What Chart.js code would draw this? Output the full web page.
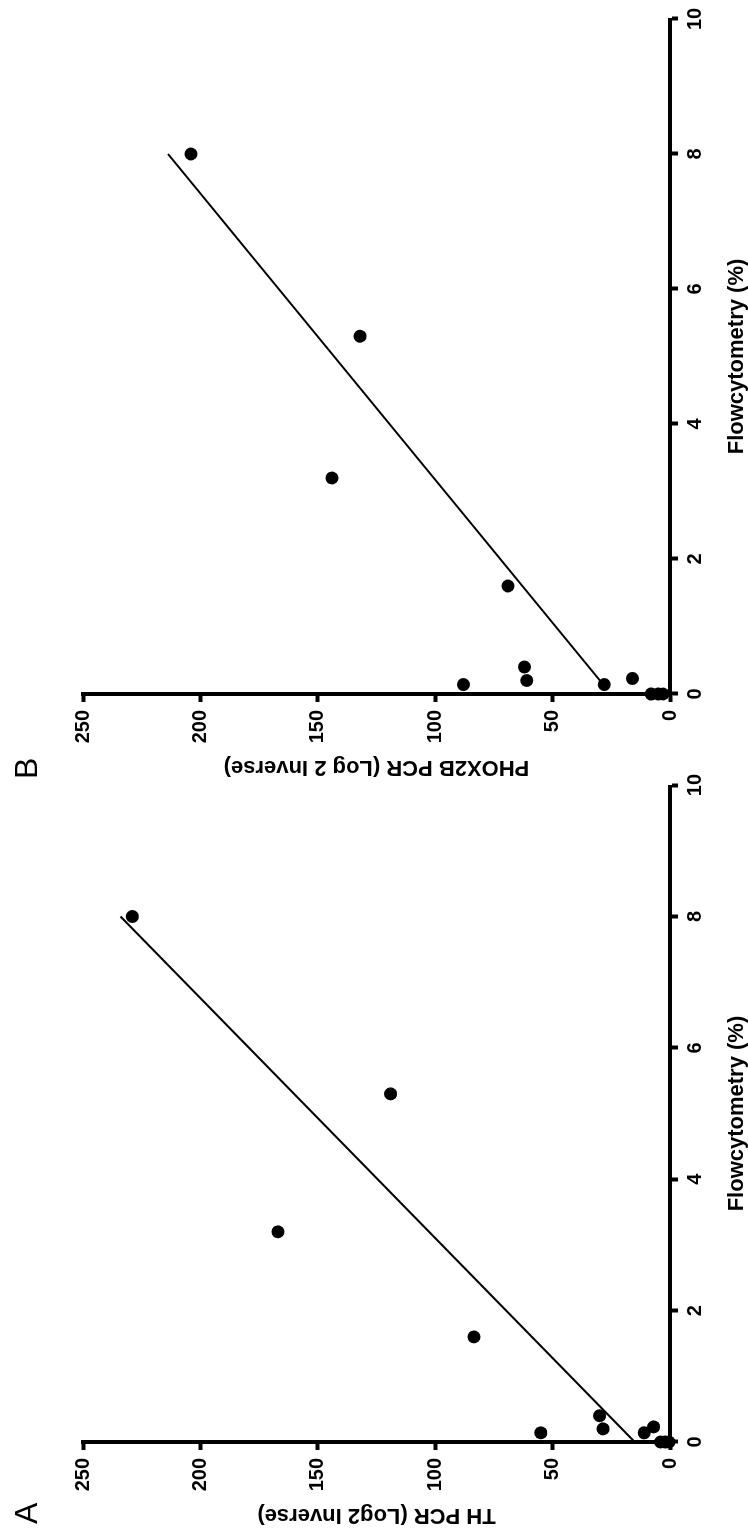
<!DOCTYPE html>
<html>
<head>
<meta charset="utf-8">
<script src="https://cdn.jsdelivr.net/npm/chart.js@4.4.0/dist/chart.umd.min.js"></script>
<style>
  html, body { margin: 0; padding: 0; background: #fff; overflow: hidden; width: 748px; height: 1537px; }
  /* the figure is drawn upright (1537 x 748) and turned a quarter turn left */
  #fig { position: absolute; left: 0; top: 0; width: 1537px; height: 748px;
         transform-origin: 0 0; transform: translateY(1537px) rotate(-90deg); }
  .panel { position: absolute; top: 0; height: 748px; }
  .tag { position: absolute; top: 10px; font: 32px "Liberation Sans", Arial, sans-serif; line-height: 32px; color: #000; }
</style>
</head>
<body>
<div id="fig">
  <div class="panel" style="left:0;width:768px"><canvas id="chartA" width="768" height="748"></canvas><div class="tag" style="left:13px">A</div></div>
  <div class="panel" style="left:748px;width:789px"><canvas id="chartB" width="789" height="748"></canvas><div class="tag" style="left:10px">B</div></div>
</div>
<script>
// samples (flowcytometry %), same 12 samples in both panels
const flow = [8.0, 5.3, 3.2, 1.6, 0.4, 0.2, 0.14, 0.14, 0.23, 0, 0, 0];
const thPcr = [229, 119, 167, 83.5, 30, 28.5, 55, 11, 7, 4, 2, 0.5];
const phox2bPcr = [204, 132, 144, 69, 62, 61, 88, 28, 16, 8, 5, 3];

// regression lines (end points)
const fitAx = [0, 8];
const fitAy = [15, 234];
const fitBx = [0.14, 8];
const fitBy = [28.4, 213.8];

const xTicks = [0, 2, 4, 6, 8, 10];
const yTicks = [0, 50, 100, 150, 200, 250];

Chart.defaults.font.family = '"Liberation Sans", Arial, sans-serif';
Chart.defaults.color = '#000';

function pts(xs, ys) {
  return xs.map((x, i) => ({ x: x, y: ys[i] }));
}

function makeChart(id, values, fx, fy, yTitle, rightPad) {
  const ctx = document.getElementById(id);
  return new Chart(ctx, {
    type: 'scatter',
    data: {
      datasets: [
        {
          data: pts(flow, values),
          backgroundColor: '#000',
          borderWidth: 0,
          pointRadius: 6.5,
          clip: false
        },
        {
          type: 'line',
          data: pts(fx, fy),
          borderColor: '#000',
          borderWidth: 2,
          pointRadius: 0,
          fill: false,
          clip: false
        }
      ]
    },
    options: {
      responsive: false,
      animation: false,
      events: [],
      layout: { padding: { top: 83, right: rightPad, left: 0, bottom: 0 } },
      plugins: { legend: { display: false }, tooltip: { enabled: false } },
      scales: {
        x: {
          type: 'linear', min: 0, max: 10,
          afterBuildTicks: s => { s.ticks = xTicks.map(v => ({ value: v })); },
          afterFit: s => { s.height = 78; },
          border: { display: true, width: 4, color: '#000' },
          grid: { drawOnChartArea: false, drawTicks: true, tickLength: 8, tickWidth: 4, tickColor: '#000' },
          ticks: { padding: 5, font: { size: 20, weight: 'bold' }, color: '#000', maxRotation: 0 },
          title: { display: true, text: 'Flowcytometry (%)', color: '#000',
                   font: { size: 22, weight: 'bold', lineHeight: 1 }, padding: { top: 0, bottom: 0 } }
        },
        y: {
          type: 'linear', min: 0, max: 250,
          afterBuildTicks: s => { s.ticks = yTicks.map(v => ({ value: v })); },
          afterFit: s => { s.width = 95; },
          border: { display: true, width: 4, color: '#000' },
          grid: { drawOnChartArea: false, drawTicks: true, tickLength: 8, tickWidth: 4, tickColor: '#000' },
          ticks: { padding: 8, font: { size: 20, weight: 'bold' }, color: '#000' },
          title: { display: true, text: yTitle, color: '#000',
                   font: { size: 22, weight: 'bold', lineHeight: 1 }, padding: { top: 11, bottom: 0 } }
        }
      }
    }
  });
}

makeChart('chartA', thPcr, fitAx, fitAy, 'TH PCR (Log2 Inverse)', 15);
makeChart('chartB', phox2bPcr, fitBx, fitBy, 'PHOX2B PCR (Log 2 Inverse)', 19);
</script>
</body>
</html>
